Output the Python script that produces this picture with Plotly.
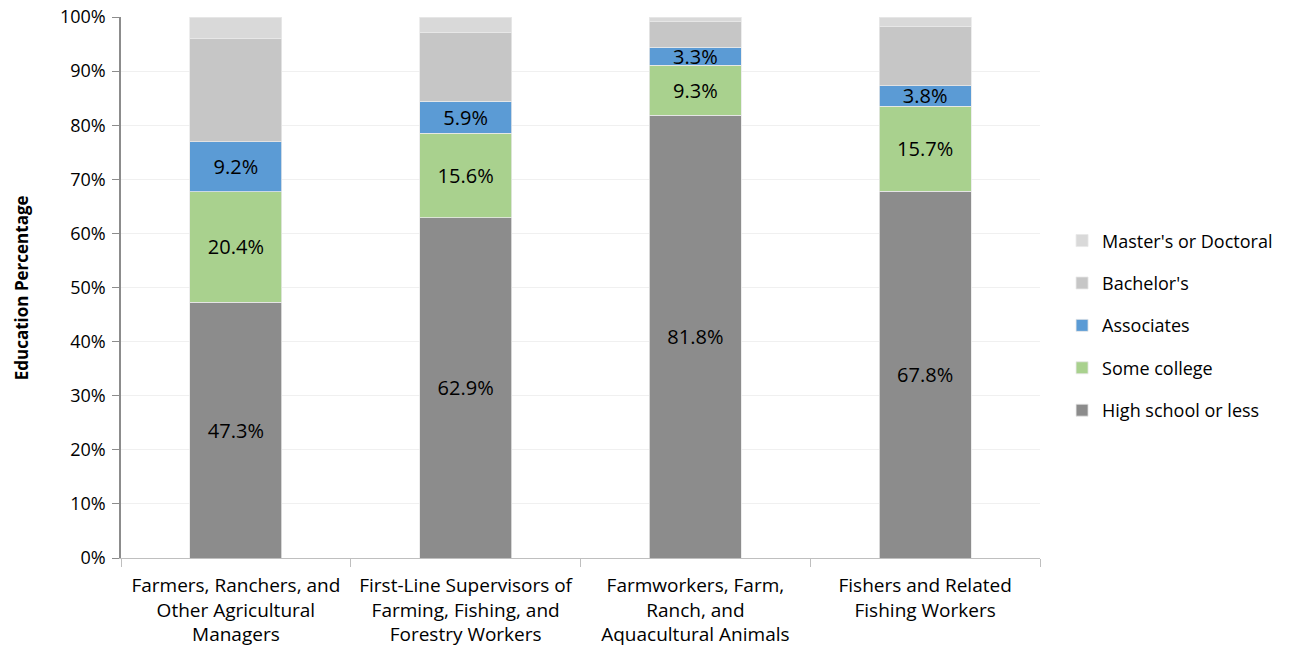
import plotly.graph_objects as go

categories = [
    "Farmers, Ranchers, and<br>Other Agricultural<br>Managers",
    "First-Line Supervisors of<br>Farming, Fishing, and<br>Forestry Workers",
    "Farmworkers, Farm,<br>Ranch, and<br>Aquacultural Animals",
    "Fishers and Related<br>Fishing Workers",
]
high_school = [47.3, 62.9, 81.8, 67.8]
some_college = [20.4, 15.6, 9.3, 15.7]
associates = [9.2, 5.9, 3.3, 3.8]
bachelors = [19.2, 12.8, 4.7, 11.0]
masters = [3.9, 2.8, 0.9, 1.7]

series = [
    ("High school or less", high_school, "#8c8c8c", True),
    ("Some college", some_college, "#a9d18e", True),
    ("Associates", associates, "#5b9bd5", True),
    ("Bachelor's", bachelors, "#c6c6c6", False),
    ("Master's or Doctoral", masters, "#d9d9d9", False),
]

FONT = "Open Sans"
fig = go.Figure()
n = len(series)
for i, (name, vals, color, show) in enumerate(series):
    fig.add_trace(go.Bar(
        x=categories, y=vals, name=name, legendgroup=f"g{i}",
        legendrank=n - i,
        marker=dict(color=color, line=dict(color="#e8e8e8", width=0.8)),
        text=[f"{v:.1f}%" for v in vals] if show else None,
        textposition="inside" if show else "none",
        insidetextanchor="middle", textangle=0,
        textfont=dict(color="black", size=20, family=FONT),
        constraintext="none",
        hoverinfo="skip",
    ))

fig.update_layout(
    barmode="stack", bargap=0.6,
    width=1302, height=649,
    margin=dict(l=113, r=270, t=9, b=99, autoexpand=False),
    plot_bgcolor="white", paper_bgcolor="white",
    font=dict(family=FONT, size=18, color="black"),
    showlegend=True,
    legend=dict(traceorder="grouped", tracegroupgap=16,
                x=1.024, xanchor="left", y=0.43, yanchor="middle",
                font=dict(size=18, family=FONT), itemwidth=30),
    yaxis=dict(range=[0, 100], dtick=10, ticksuffix="%",
               showgrid=True, gridcolor="#f0f0f0", gridwidth=1,
               showline=True, linecolor="#8c8c8c", linewidth=1.5,
               ticks="outside", ticklen=7, tickcolor="#8c8c8c",
               tickfont=dict(size=18), automargin=False,
               ticklabeloverflow="allow", ticklabelstandoff=3,
               zeroline=False),
    xaxis=dict(showline=True, linecolor="#bfbfbf", linewidth=1,
               ticks="outside", tickson="boundaries", ticklen=8, tickcolor="#bfbfbf",
               tickfont=dict(size=19), automargin=False,
               ticklabelstandoff=10),
    annotations=[dict(text="<b>Education Percentage</b>", textangle=-90,
                      xref="paper", yref="paper", x=-0.108, y=0.5,
                      xanchor="center", yanchor="middle", showarrow=False,
                      font=dict(size=17, family=FONT))],
)

fig.write_html("out.html")
